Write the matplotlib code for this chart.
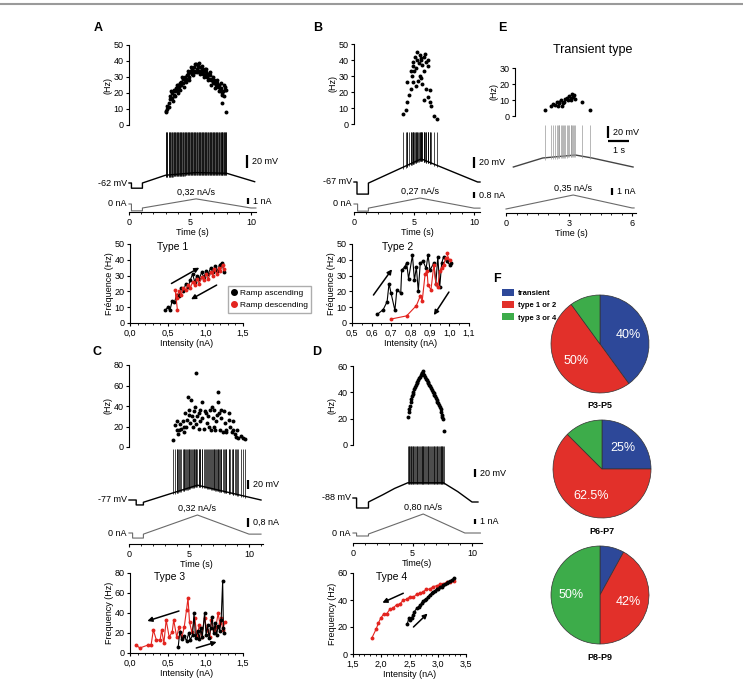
import matplotlib.pyplot as plt
import numpy as np
from matplotlib.lines import Line2D
from matplotlib.patches import Patch
from matplotlib.ticker import MultipleLocator, FuncFormatter

plt.rcParams['font.family'] = ['Liberation Sans', 'DejaVu Sans']
plt.rcParams['font.size'] = 6.5
plt.rcParams['axes.linewidth'] = 0.8
plt.rcParams['xtick.major.width'] = 0.8
plt.rcParams['ytick.major.width'] = 0.8
plt.rcParams['xtick.minor.width'] = 0.6
plt.rcParams['xtick.major.size'] = 2.5
plt.rcParams['ytick.major.size'] = 2.5
plt.rcParams['xtick.minor.size'] = 1.6
plt.rcParams['xtick.major.pad'] = 1.5
plt.rcParams['ytick.major.pad'] = 1.5
plt.rcParams['axes.labelpad'] = 1.0

# ---------------- data ----------------
# A : type 1
A_t = [3.00, 3.05, 3.15, 3.25, 3.35, 3.40, 3.50, 3.55, 3.65, 3.70, 3.80, 3.85, 3.95, 4.00, 4.10, 4.15, 4.25,
       4.30, 4.40, 4.45, 4.55, 4.60, 4.70, 4.75, 4.85, 4.90, 5.00, 5.05, 5.15, 5.20, 5.30, 5.35, 5.45, 5.50,
       5.60, 5.65, 5.75, 5.80, 5.90, 5.95, 6.05, 6.10, 6.20, 6.25, 6.35, 6.40, 6.50, 6.55, 6.65, 6.70, 6.80,
       6.85, 6.95, 7.00, 7.10, 7.15, 7.25, 7.30, 7.40, 7.45, 7.55, 7.60, 7.65, 7.70, 7.75, 7.85, 7.90, 7.95,
       3.10, 3.30, 3.45, 3.60, 3.75, 3.90, 4.05, 4.20, 4.35, 4.50, 4.65, 4.80, 4.95, 5.10, 5.25, 5.40, 5.55,
       5.70, 5.85, 6.00, 6.15, 6.30, 6.45, 6.60, 6.75, 6.90, 7.05, 7.20, 7.35, 7.50, 7.65, 7.80, 7.98]
A_hz = [8, 9, 10, 14, 16, 18, 17, 20, 19, 22, 21, 23, 22, 25, 24, 26, 25, 27, 26, 29, 28, 30, 29, 31, 32, 30,
        33, 34, 32, 35, 34, 36, 33, 38, 35, 37, 34, 36, 33, 35, 34, 32, 35, 31, 33, 30, 32, 29, 31, 28, 29, 27,
        28, 26, 27, 25, 26, 24, 25, 22, 23, 20, 14, 21, 18, 24, 22, 8,
        12, 11, 21, 15, 18, 25, 20, 22, 30, 24, 27, 34, 28, 36, 31, 38, 33, 39, 32, 37, 30, 35, 28, 33, 25,
        30, 23, 28, 21, 26, 19, 25, 22]
A_v_t = [0, 0.2, 0.2, 1.1, 1.1, 3.0, 5.5, 8.0, 10.3]
A_v_mv = [-62, -62, -70, -70, -62, -50, -46, -47, -60]
A_i_t = [0, 0.2, 0.2, 1.1, 1.1, 5.5, 10.0, 10.4]
A_i_na = [0, 0, -1.2, -1.2, -0.7, 0.9, -0.7, -0.7]
A_asc_i = [0.47, 0.50, 0.53, 0.56, 0.59, 0.62, 0.65, 0.68, 0.71, 0.74, 0.77, 0.80, 0.83, 0.86, 0.89, 0.92,
           0.95, 0.98, 1.01, 1.04, 1.07, 1.10, 1.13, 1.16, 1.19, 1.22, 1.25]
A_asc_hz = [8, 10, 8, 14, 13, 18, 17, 22, 20, 25, 23, 27, 31, 26, 30, 28, 32, 29, 33, 31, 35, 32, 36, 33, 37, 38, 32]
A_desc_i = [1.25, 1.23, 1.20, 1.18, 1.15, 1.12, 1.10, 1.07, 1.04, 1.01, 0.98, 0.95, 0.92, 0.89, 0.86, 0.83,
            0.80, 0.77, 0.74, 0.71, 0.68, 0.65, 0.62, 0.60, 0.63]
A_desc_hz = [34, 37, 33, 35, 31, 34, 30, 32, 28, 31, 27, 29, 25, 28, 24, 26, 22, 24, 21, 22, 18, 20, 16, 21, 8]

# B : type 2
B_t = [4.10, 4.30, 4.40, 4.45, 4.60, 4.75, 4.75, 4.80, 4.90, 4.90, 4.95, 5.00, 5.10, 5.15, 5.20, 5.25, 5.25,
       5.35, 5.40, 5.50, 5.50, 5.55, 5.60, 5.60, 5.70, 5.70, 5.80, 5.85, 5.85, 5.90, 6.00, 6.00, 6.15, 6.15,
       6.20, 6.30, 6.35, 6.40, 6.70, 6.90]
B_hz = [6, 9, 26, 14, 18, 22, 33, 30, 26, 39, 36, 33, 42, 24, 35, 40, 45, 27, 38, 43, 30, 41, 40, 29, 37, 25,
        42, 33, 15, 44, 39, 22, 36, 17, 40, 14, 21, 11, 5, 3]
B_v_t = [0, 0.25, 0.25, 1.2, 1.2, 5.6, 10.3, 10.5]
B_v_mv = [-67, -67, -89, -89, -69, -25, -67, -67]
B_i_t = [0, 0.3, 0.3, 1.2, 1.2, 5.5, 10.0, 10.5]
B_i_na = [0, 0, -0.95, -0.95, -0.55, 0.8, -0.55, -0.55]
B_asc_i = [0.63, 0.66, 0.68, 0.69, 0.70, 0.72, 0.73, 0.75, 0.755, 0.77, 0.78, 0.79, 0.81, 0.82, 0.83, 0.84,
           0.85, 0.865, 0.88, 0.89, 0.90, 0.92, 0.93, 0.94, 0.95, 0.96, 0.97, 0.985, 1.0, 1.01]
B_asc_hz = [5.5, 8.5, 13.5, 25, 19, 8, 21, 19, 33.5, 35.5, 38, 28, 43, 27, 35.5, 20, 38, 39, 34.5, 43, 33.5,
            38, 25, 42, 23, 38, 42, 39, 37, 38]
B_desc_i = [0.985, 1.0, 0.98, 0.97, 0.96, 0.95, 0.94, 0.93, 0.92, 0.905, 0.89, 0.885, 0.875, 0.86, 0.85,
            0.83, 0.78, 0.70]
B_desc_hz = [44, 40, 41, 37, 35, 33, 23, 25, 37, 21, 24, 33, 31, 14, 17, 11, 4.5, 2.5]

# C : type 3
C_t = [3.70, 3.80, 4.00, 4.00, 4.10, 4.20, 4.25, 4.30, 4.50, 4.55, 4.60, 4.70, 4.75, 4.80, 4.90, 5.00, 5.00,
       5.10, 5.20, 5.25, 5.30, 5.40, 5.45, 5.50, 5.60, 5.60, 5.70, 5.80, 5.85, 5.90, 5.95, 6.05, 6.10, 6.25,
       6.30, 6.40, 6.50, 6.60, 6.70, 6.75, 6.80, 6.90, 7.00, 7.05, 7.10, 7.20, 7.25, 7.35, 7.40, 7.45, 7.50,
       7.60, 7.65, 7.70, 7.80, 7.90, 8.00, 8.05, 8.10, 8.30, 8.35, 8.40, 8.55, 8.65, 8.70, 8.80, 8.90, 9.00,
       9.10, 9.30, 9.50, 9.70]
C_hz = [7, 21, 17, 25, 13, 17, 22, 18, 25, 20, 15, 33, 20, 26, 49, 31, 36, 23, 46, 30, 20, 35, 26, 39, 72, 22,
        30, 33, 18, 25, 36, 44, 28, 18, 35, 33, 23, 30, 20, 36, 17, 39, 28, 20, 36, 17, 25, 31, 54, 44, 33, 17,
        36, 28, 15, 35, 23, 17, 15, 33, 26, 20, 15, 17, 25, 13, 10, 17, 9, 11, 9, 8]
C_v_t = [0, 0.6, 0.6, 1.2, 1.2, 5.7, 11.0]
C_v_mv = [-77, -77, -88, -88, -82, -44, -77]
C_i_t = [0, 0.3, 0.3, 1.2, 1.2, 5.7, 10.0, 11.0]
C_i_na = [0, 0, -0.45, -0.45, -0.1, 1.6, -0.1, -0.1]
C_asc_i = [0.64, 0.66, 0.69, 0.72, 0.75, 0.78, 0.80, 0.83, 0.85, 0.87, 0.90, 0.92, 0.94, 0.96, 0.99, 1.01,
           1.03, 1.05, 1.07, 1.09, 1.11, 1.13, 1.15, 1.17, 1.19, 1.21, 1.23, 1.24, 1.25]
C_asc_hz = [6, 21, 14, 17, 12, 20, 13, 18, 40, 15, 22, 14, 25, 16, 40, 18, 28, 15, 25, 36, 20, 30, 18, 27, 22,
            33, 72, 25, 20]
C_desc_i = [1.26, 1.23, 1.21, 1.19, 1.17, 1.14, 1.11, 1.08, 1.06, 1.02, 0.99, 0.95, 0.92, 0.89, 0.86, 0.82,
            0.79, 0.77, 0.75, 0.72, 0.69, 0.65, 0.62, 0.58, 0.56, 0.52, 0.48, 0.45, 0.42, 0.40, 0.35, 0.31,
            0.28, 0.24, 0.13, 0.08]
C_desc_hz = [31, 23, 35, 30, 40, 26, 23, 33, 16, 23, 35, 16, 28, 16, 35, 21, 31, 55, 43, 26, 16, 26, 16, 33,
             21, 16, 33, 10, 23, 13, 13, 23, 8, 8, 5, 8]

# D : type 4
D_t = [4.65, 4.70, 4.73, 4.78, 4.85, 4.90, 4.93, 5.00, 5.07, 5.13, 5.20, 5.27, 5.35, 5.42, 5.50, 5.57, 5.63,
       5.70, 5.77, 5.82, 5.86, 5.92, 5.97, 6.05, 6.13, 6.20, 6.27, 6.34, 6.41, 6.48, 6.55, 6.62, 6.70, 6.77,
       6.83, 6.90, 6.97, 7.03, 7.10, 7.17, 7.23, 7.30, 7.37, 7.42, 7.45, 7.50, 7.54, 7.65]
D_hz = [21, 25, 27, 30, 33, 35, 37, 39, 40.5, 42.5, 44, 45.5, 47, 48, 49.5, 51, 52, 53, 54.5, 55, 56, 54, 53,
        52, 50.5, 49.5, 48, 47, 45.5, 44.5, 43, 42, 40.5, 39.5, 38, 37, 35.5, 34.5, 33, 32, 30.5, 29, 27, 25,
        23, 21.5, 20, 11]
D_v_t = [0, 0.3, 0.3, 1.3, 1.3, 2.5, 3.5, 4.6, 7.6, 8.8, 10.0, 10.5]
D_v_mv = [-88, -88, -113, -113, -98, -80, -64, -50, -50, -72, -98, -98]
D_i_t = [0, 0.3, 0.3, 1.3, 1.3, 5.9, 9.4, 10.7]
D_i_na = [0, 0, -0.6, -0.6, -0.2, 3.8, 0, 0]
D_asc_i = [2.46, 2.49, 2.51, 2.54, 2.56, 2.58, 2.63, 2.66, 2.69, 2.72, 2.74, 2.77, 2.80, 2.83, 2.86, 2.89,
           2.92, 2.95, 2.98, 3.01, 3.04, 3.07, 3.10, 3.13, 3.16, 3.19, 3.22, 3.25, 3.28]
D_asc_hz = [22, 27, 25, 27, 29, 31, 34, 35, 36, 38, 39.5, 40, 41, 42.5, 44, 45, 46, 47, 48, 48.5, 49.5, 50, 51,
            51.5, 52.5, 53, 54, 55, 56]
D_desc_i = [1.83, 1.91, 1.95, 1.99, 2.04, 2.10, 2.15, 2.21, 2.27, 2.33, 2.39, 2.45, 2.51, 2.57, 2.63, 2.69,
            2.74, 2.80, 2.86, 2.92, 2.98, 3.04, 3.10, 3.16, 3.22, 3.28]
D_desc_hz = [11.5, 18.5, 23, 26.5, 29.5, 30, 33, 34, 36.5, 37, 40, 40.5, 42.5, 42, 44.5, 45, 46, 48, 48, 50,
             50.5, 51.5, 52, 53, 53.5, 54]

# E : transient type
E_t = [1.86, 2.14, 2.25, 2.33, 2.41, 2.46, 2.50, 2.54, 2.60, 2.65, 2.73, 2.76, 2.81, 2.89, 2.97, 3.02, 3.08,
       3.10, 3.14, 3.20, 3.24, 3.27, 3.62, 4.00]
E_hz = [4, 6.5, 7.5, 7, 9, 6.5, 8, 8.5, 10, 6, 8, 9, 10.5, 11.5, 10, 12.5, 11, 10, 13.5, 12, 13, 10.5, 9, 3.5]
E_v_t = [0.35, 1.75, 3.3, 4.1, 6.05]
E_v_mv = [-60, -45, -40, -45, -60]
E_i_t = [0, 3.2, 6.0, 6.1]
E_i_na = [0, 2.0, 0.15, 0.15]

# F : proportions
pie_groups = ['transient', 'type 1 or 2', 'type 3 or 4']
pie_ages = ['P3-P5', 'P6-P7', 'P8-P9']
pie_P3_P5 = [40, 50, 10]
pie_P6_P7 = [25, 62.5, 12.5]
pie_P8_P9 = [8, 42, 50]
pie_text_P3_P5 = ['40%', '50%', '']
pie_text_P6_P7 = ['25%', '62.5%', '']
pie_text_P8_P9 = ['', '42%', '50%']

RED = '#e3241f'
PIE_COLORS = ['#2d4899', '#e2302a', '#3dac4a']

# ---------------- figure ----------------
W, H = 743, 679
fig = plt.figure(figsize=(W / 100, H / 100), dpi=100)


def px_axes(x0, y0, x1, y1):
    ax = fig.add_axes([x0 / W, 1 - y1 / H, (x1 - x0) / W, (y1 - y0) / H])
    ax.patch.set_visible(False)
    return ax


def freq_axes(t0, pps, tmin, tmax, ytop, ybot, ymax, ystep, t, hz):
    ax = px_axes(t0 + tmin * pps, ytop, t0 + tmax * pps, ybot)
    ax.set_xlim(tmin, tmax)
    ax.set_ylim(0, ymax)
    for s in ('top', 'right', 'bottom'):
        ax.spines[s].set_visible(False)
    ax.set_xticks([])
    ax.set_yticks(np.arange(0, ymax + 1, ystep))
    ax.set_ylabel('(Hz)', labelpad=0.5)
    ax.scatter(t, hz, s=8, color='k', lw=0, clip_on=False)
    return ax


def trace_axes(t0, pps, tmax, ytop, yaxis, vref, vpx, vppu, ipx, ippu):
    axi = px_axes(t0, ytop, t0 + tmax * pps, yaxis)
    axv = px_axes(t0, ytop, t0 + tmax * pps, yaxis)
    axi.set_xlim(0, tmax)
    axv.set_xlim(0, tmax)
    axv.set_ylim(vref - (yaxis - vpx) / vppu, vref + (vpx - ytop) / vppu)
    axi.set_ylim(-(yaxis - ipx) / ippu, (ipx - ytop) / ippu)
    axv.axis('off')
    for s in ('top', 'right', 'left'):
        axi.spines[s].set_visible(False)
    axi.set_yticks([])
    return axv, axi


def draw_voltage(axv, vt, vmv, spikes, peak, color='k', spike_color='k'):
    axv.plot(vt, vmv, color=color, lw=1.0, clip_on=False)
    foot = np.interp(spikes, vt, vmv) - 3
    axv.vlines(spikes, foot, peak, color=spike_color, lw=0.5)


def draw_current(axi, it, ina, rate, rate_t, rate_i):
    axi.plot(it, ina, color='#6a6a6a', lw=0.8, clip_on=False)
    axi.annotate(rate, (rate_t, rate_i), xytext=(0, 1.5), textcoords='offset points',
                 ha='center', va='bottom')


def vbar(ax, t, y0, size, label):
    ax.plot([t, t], [y0, y0 + size], color='k', lw=1.6, solid_capstyle='butt', clip_on=False)
    ax.annotate(label, (t, y0 + size / 2), xytext=(3.5, 0), textcoords='offset points',
                ha='left', va='center')


def side_label(ax, y, text):
    ax.annotate(text, (0, y), xytext=(-1.5, 0), textcoords='offset points', ha='right', va='center')


def time_axis(axi, ticks, minor, label):
    axi.set_xticks(ticks)
    axi.xaxis.set_minor_locator(MultipleLocator(minor))
    axi.set_xlabel(label)


comma = FuncFormatter(lambda v, p: f'{v:.1f}'.replace('.', ','))


def fi_axes(x0, y0, x1, y1, xlim, ymax, xstep, ystep, xminor, ylabel, type_label, type_xy):
    ax = px_axes(x0, y0, x1, y1)
    ax.set_xlim(*xlim)
    ax.set_ylim(0, ymax)
    ax.spines['top'].set_visible(False)
    ax.spines['right'].set_visible(False)
    ax.set_xticks(np.arange(xlim[0], xlim[1] + 1e-9, xstep))
    ax.xaxis.set_major_formatter(comma)
    ax.xaxis.set_minor_locator(MultipleLocator(xminor))
    ax.set_yticks(np.arange(0, ymax + 1, ystep))
    ax.set_xlabel('Intensity (nA)')
    ax.set_ylabel(ylabel, labelpad=0.5)
    ax.text(type_xy[0], type_xy[1], type_label, fontsize=7.5)
    return ax


def fi_series(ax, i, hz, color):
    ax.plot(i, hz, '-o', color=color, ms=2.8, lw=0.8, mew=0, clip_on=False)


def arrow(ax, start, end):
    ax.annotate('', xy=end, xytext=start,
                arrowprops=dict(arrowstyle='-|>', color='k', lw=1.1, mutation_scale=7,
                                shrinkA=0, shrinkB=0))


# ---- A ----
freq_axes(129, 12.2, 0, 10.4, 45, 125, 50, 10, A_t, A_hz)
axv, axi = trace_axes(129, 12.2, 10.4, 128, 212, -62, 183, 0.65, 204, 5.7)
draw_voltage(axv, A_v_t, A_v_mv, A_t, 16)
draw_current(axi, A_i_t, A_i_na, '0,32 nA/s', 5.5, 0.9)
vbar(axv, 9.7, -39, 20, '20 mV')
vbar(axi, 9.75, 0, 1, '1 nA')
side_label(axv, -62, '-62 mV')
side_label(axi, 0, '0 nA')
time_axis(axi, [0, 5, 10], 1, 'Time (s)')

ax = fi_axes(130, 244, 243, 323, (0, 1.5), 50, 0.5, 10, 0.1, 'Fréquence (Hz)', 'Type 1', (0.36, 46))
fi_series(ax, A_asc_i, A_asc_hz, 'k')
fi_series(ax, A_desc_i, A_desc_hz, RED)
arrow(ax, (0.55, 25), (0.92, 35))
arrow(ax, (1.15, 24), (0.81, 15))
ax.legend([Line2D([], [], ls='', marker='o', color='k', ms=4),
           Line2D([], [], ls='', marker='o', color=RED, ms=4)],
          ['Ramp ascending', 'Ramp descending'], loc='upper left',
          bbox_to_anchor=(228 / W, 1 - 286 / H), bbox_transform=fig.transFigure,
          fancybox=False, edgecolor='#999999', fontsize=6, handlelength=0.7,
          handletextpad=0.3, borderpad=0.4, labelspacing=0.5, borderaxespad=0)

# ---- B ----
freq_axes(354, 12.0, 0, 10.5, 44, 124, 50, 10, B_t, B_hz)
axv, axi = trace_axes(354, 12.0, 10.5, 128, 212, -67, 182, 0.55, 204, 7.5)
draw_voltage(axv, B_v_t, B_v_mv, B_t, 24)
draw_current(axi, B_i_t, B_i_na, '0,27 nA/s', 5.5, 0.8)
vbar(axv, 10.0, -41.5, 20, '20 mV')
vbar(axi, 10.0, 0.8, 0.8, '0.8 nA')
side_label(axv, -67, '-67 mV')
side_label(axi, 0, '0 nA')
time_axis(axi, [0, 5, 10], 1, 'Time (s)')

ax = fi_axes(352, 244, 469, 323, (0.5, 1.1), 50, 0.1, 10, 0.05, 'Fréquence (Hz)', 'Type 2', (0.654, 46))
fi_series(ax, B_asc_i, B_asc_hz, 'k')
fi_series(ax, B_desc_i, B_desc_hz, RED)
arrow(ax, (0.61, 17.7), (0.705, 34))
arrow(ax, (0.997, 19.6), (0.92, 5))

# ---- C ----
freq_axes(129, 12.0, 0, 11.2, 365, 447, 80, 20, C_t, C_hz)
axv, axi = trace_axes(129, 12.0, 11.2, 449, 544, -77, 500, 0.45, 533, 11.25)
draw_voltage(axv, C_v_t, C_v_mv, C_t, 36)
draw_current(axi, C_i_t, C_i_na, '0,32 nA/s', 5.7, 1.6)
vbar(axv, 9.9, -52.6, 20, '20 mV')
vbar(axi, 9.9, 0.53, 0.8, '0,8 nA')
side_label(axv, -77, '-77 mV')
side_label(axi, 0, '0 nA')
time_axis(axi, [0, 5, 10], 1, 'Time (s)')

ax = fi_axes(130, 573, 243, 653, (0, 1.5), 80, 0.5, 20, 0.1, 'Frequency (Hz)', 'Type 3', (0.32, 73))
fi_series(ax, C_desc_i, C_desc_hz, RED)
fi_series(ax, C_asc_i, C_asc_hz, 'k')
arrow(ax, (0.65, 42), (0.23, 32))
arrow(ax, (0.88, 5), (1.15, 11))

# ---- D ----
freq_axes(353, 11.9, 0, 10.8, 366, 445, 60, 20, D_t, D_hz)
axv, axi = trace_axes(353, 11.9, 10.8, 446, 543, -88, 498, 0.4, 533, 5.0)
draw_voltage(axv, D_v_t, D_v_mv, D_t, 42)
draw_current(axi, D_i_t, D_i_na, '0,80 nA/s', 5.9, 3.8)
vbar(axv, 10.25, -35.5, 20, '20 mV')
vbar(axi, 10.25, 1.8, 1, '1 nA')
side_label(axv, -88, '-88 mV')
side_label(axi, 0, '0 nA')
time_axis(axi, [0, 5, 10], 1, 'Time(s)')

ax = fi_axes(353, 573, 466, 654, (1.5, 3.5), 60, 0.5, 20, 0.1, 'Frequency (Hz)', 'Type 4', (1.91, 54.8))
fi_series(ax, D_desc_i, D_desc_hz, RED)
fi_series(ax, D_asc_i, D_asc_hz, 'k')
arrow(ax, (2.39, 45), (2.02, 38))
arrow(ax, (2.57, 20), (2.82, 30))

# ---- E ----
freq_axes(506, 21.0, 0.43, 6.2, 68, 116, 30, 10, E_t, E_hz)
axv, axi = trace_axes(506, 21.0, 6.2, 120, 213, -60, 167, 0.6, 209, 7.0)
draw_voltage(axv, E_v_t, E_v_mv, E_t, 10, color='#444444', spike_color='#9a9a9a')
draw_current(axi, E_i_t, E_i_na, '0,35 nA/s', 3.2, 2.0)
vbar(axv, 4.86, -11.7, 20, '20 mV')
axv.plot([4.86, 5.86], [-16.7, -16.7], color='k', lw=1.6, solid_capstyle='butt')
axv.text(5.36, -33, '1 s', ha='center', va='center')
vbar(axi, 5.05, 2.0, 1, '1 nA')
time_axis(axi, [0, 3, 6], 0.5, 'Time (s)')
fig.text(593 / W, 1 - 50 / H, 'Transient type', ha='center', va='center', fontsize=9)

# ---- F ----
for (cx, cy), fracs, texts, age in zip([(600, 344), (602, 469), (600, 595)],
                                      [pie_P3_P5, pie_P6_P7, pie_P8_P9],
                                      [pie_text_P3_P5, pie_text_P6_P7, pie_text_P8_P9], pie_ages):
    r = 49
    ax = px_axes(cx - r, cy - r, cx + r, cy + r)
    it = iter(texts)
    ax.pie(fracs, colors=PIE_COLORS, startangle=90, counterclock=False, radius=1,
           autopct=lambda p: next(it), pctdistance=0.6,
           wedgeprops=dict(edgecolor='#333333', linewidth=0.5),
           textprops=dict(color='white', fontsize=9))
    ax.set_xlim(-1, 1)
    ax.set_ylim(-1, 1)
    fig.text(cx / W, 1 - (cy + r + 13) / H, age, ha='center', va='center',
             fontweight='bold', fontsize=6.5)

fig.legend([Patch(facecolor=c, edgecolor='none') for c in PIE_COLORS], pie_groups,
           loc='upper left', bbox_to_anchor=(502 / W, 1 - 289 / H), frameon=False,
           prop=dict(weight='bold', size=5.5), handlelength=1.6, handleheight=1.0,
           handletextpad=0.5, labelspacing=0.55, borderpad=0, borderaxespad=0)

# ---- panel letters, top rule ----
for letter, x, y in [('A', 98, 28), ('B', 318, 28), ('E', 502, 28), ('C', 97, 352),
                     ('D', 317, 352), ('F', 497, 279)]:
    fig.text(x / W, 1 - y / H, letter, ha='center', va='center', fontweight='bold', fontsize=9)
fig.add_artist(Line2D([0, 1], [1 - 4 / H, 1 - 4 / H], transform=fig.transFigure,
                      color='#9a9a9a', lw=1.5))

fig.savefig('out.png', dpi=100)
